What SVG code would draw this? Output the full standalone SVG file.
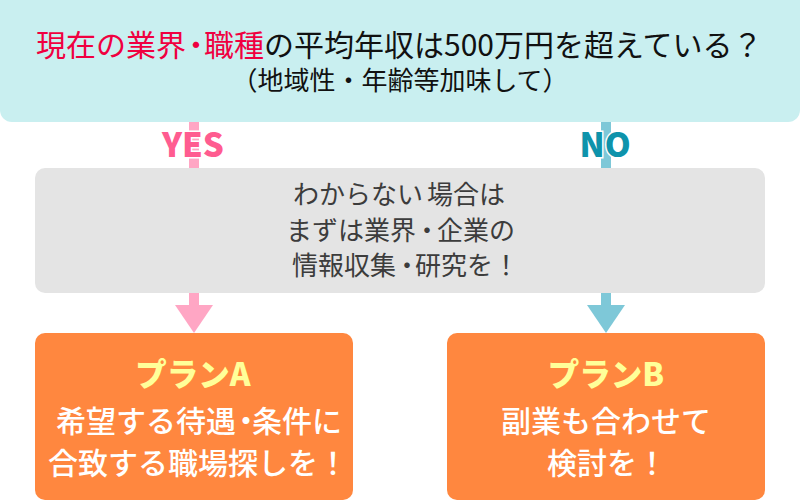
<svg xmlns="http://www.w3.org/2000/svg" width="800" height="500" viewBox="0 0 800 500">
<style>
text{font-family:"Noto Sans CJK JP","Noto Sans",sans-serif}
.c{text-anchor:middle}
.t{font-size:30px;font-weight:400;fill:#111}
.s{font-size:26px;font-weight:400;fill:#111}
.g{font-size:26px;font-weight:400;fill:#3c3c3c}
.w{font-size:30px;font-weight:500;fill:#fff}
.p{font-size:31.5px;font-weight:900;fill:#ffff99;text-anchor:middle}
.l{font-size:33px;font-weight:900;text-anchor:middle;stroke:#fff;stroke-width:3px;paint-order:stroke}
.r{fill:#f00040}
</style>
<rect width="800" height="500" fill="#fff"/>
<g id="connectors">
<rect x="189" y="120" width="10" height="186" fill="#ffa6c4"/>
<polygon points="175,305 213,305 194,333" fill="#ffa6c4"/>
<rect x="601" y="120" width="10" height="186" fill="#7ec8d8"/>
<polygon points="587,305 625,305 606,333" fill="#7ec8d8"/>
</g>
<g id="question">
<path d="M0 0H800V110a12 12 0 0 1-12 12H12a12 12 0 0 1-12-12Z" fill="#c9eff0"/>
<text class="t" x="36" y="56"><tspan class="r">現在の業<tspan letter-spacing="-5">界</tspan><tspan letter-spacing="-7">・</tspan>職種</tspan>の平均年収は500万円を超えている？</text>
<text class="s c" x="400" y="90">（地域性・年齢等加味して）</text>
</g>
<g id="yes"><text class="l" x="193" y="157" fill="#ff5c90">YES</text></g>
<g id="no"><text class="l" x="605" y="157" fill="#0e93ab">NO</text></g>
<g id="note">
<rect x="35" y="168" width="730" height="125" rx="10" fill="#e4e4e4"/>
<text class="g" x="293" y="204">わからな<tspan letter-spacing="4">い</tspan>場合は</text>
<text class="g" x="286" y="240">まずは業<tspan letter-spacing="-2">界</tspan><tspan letter-spacing="-3">・</tspan>企業の</text>
<text class="g" x="292" y="275">情報収<tspan letter-spacing="-2">集</tspan><tspan letter-spacing="-5">・</tspan>研究を！</text>
</g>
<g id="planA">
<rect x="35" y="333" width="318" height="167" rx="10" fill="#ff873f"/>
<text class="p" x="193" y="386">プランA</text>
<text class="w" x="56" y="432">希望する待<tspan letter-spacing="-5">遇</tspan><tspan letter-spacing="-9">・</tspan>条件に</text>
<text class="w c" x="198" y="474">合致する職場探しを！</text>
</g>
<g id="planB">
<rect x="447" y="333" width="318" height="167" rx="10" fill="#ff873f"/>
<text class="p" x="606" y="386">プランB</text>
<text class="w c" x="606" y="432">副業も合わせて</text>
<text class="w c" x="607" y="474">検討を！</text>
</g>
</svg>
